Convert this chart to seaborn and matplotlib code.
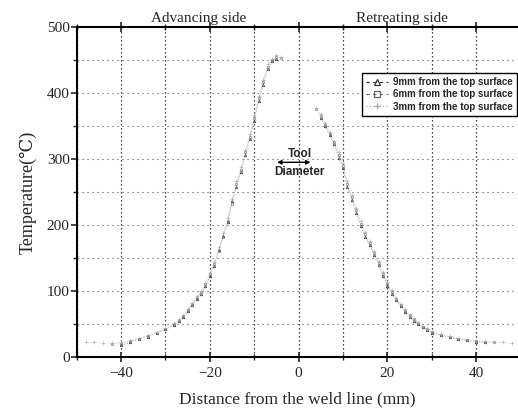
import numpy as np
import pandas as pd
import seaborn as sns
import matplotlib.pyplot as plt
from matplotlib.lines import Line2D
from matplotlib.ticker import MultipleLocator

# ---- data ----
x_adv = [-48, -46, -44, -42, -40, -38, -36, -34, -32, -30, -28, -27, -26, -25, -24, -23, -22, -21,
         -20, -19, -18, -17, -16, -15, -14, -13, -12, -11, -10, -9, -8, -7, -6, -5, -4]
t_adv_9 = [None, None, None, None, 18, 22, 27, 31, 36, 42, 48, 54, 60, 69, 79, 88, 96, 107,
           122, 138, 162, 184, 204, 236, 258, 280, 306, 330, 358, 388, 412, 436, 448, 452, None]
t_adv_6 = [None, None, None, 20, 20, 24, 28, 32, 37, 43, 50, 55, 62, 71, 80, 90, 98, 110,
           126, 141, 160, 182, 206, 232, 262, 284, 310, 334, 362, 392, 416, 440, 450, 455, 453]
t_adv_3 = [22, 22, 21, 21, 22, 25, 29, 33, 38, 44, 51, 57, 63, 72, 82, 92, 100, 112,
           128, 144, 166, 188, 210, 240, 266, 288, 314, 338, 366, 396, 420, 444, 452, 457, 455]

x_ret = [4, 5, 6, 7, 8, 9, 10, 11, 12, 13, 14, 15, 16, 17, 18, 19, 20, 21, 22, 23, 24, 25,
         26, 27, 28, 29, 30, 32, 34, 36, 38, 40, 42, 44, 46, 48]
t_ret_9 = [None, 362, 350, 336, 322, 302, 286, 258, 238, 218, 198, 182, 170, 155, 140, 123, 108, 96,
           86, 77, 68, 61, 55, 50, 45, 41, 37, 33, 30, 27, 25, 23, 22, None, None, None]
t_ret_6 = [375, 365, 352, 338, 325, 306, 290, 262, 242, 222, 202, 186, 172, 158, 143, 126, 111, 99,
           88, 79, 70, 63, 57, 51, 46, 42, 38, 34, 31, 28, 26, 24, 23, 22, None, None]
t_ret_3 = [378, 368, 355, 341, 328, 310, 294, 266, 246, 226, 206, 190, 176, 161, 146, 129, 114, 101,
           90, 81, 72, 64, 58, 52, 47, 43, 39, 35, 32, 29, 27, 25, 24, 23, 22, 21]

series_labels = ["9mm from the top surface", "6mm from the top surface", "3mm from the top surface"]
x_ticks = [-40, -20, 0, 20, 40]
y_ticks = [0, 100, 200, 300, 400, 500]

# ---- styling ----
sns.set_style("white")
serif = ["Liberation Serif", "DejaVu Serif"]
plt.rcParams["font.family"] = serif

fig = plt.figure(figsize=(5.18, 4.12), dpi=100)
ax = fig.add_axes([0.148, 0.1335, 0.851, 0.801])

styles = [
    dict(color="#333333", marker="^", ls=(0, (3, 3)), ms=1.8, mew=0.5, lc="#888888"),
    dict(color="#666666", marker="s", ls=(0, (3, 3)), ms=1.4, mew=0.4, lc="#aaaaaa"),
    dict(color="#aaaaaa", marker="+", ls=(0, (1, 2)), ms=2.2, mew=0.4, lc="#bbbbbb"),
]
adv = [t_adv_9, t_adv_6, t_adv_3]
ret = [t_ret_9, t_ret_6, t_ret_3]

for i, st in enumerate(styles):
    for xs, ts in ((x_adv, adv[i]), (x_ret, ret[i])):
        df = pd.DataFrame({"x": xs, "t": ts}).dropna()
        sns.lineplot(data=df, x="x", y="t", ax=ax, color=st["lc"], marker=st["marker"],
                     linestyle=st["ls"], linewidth=0.35, markersize=st["ms"],
                     markerfacecolor="none", markeredgecolor=st["color"],
                     markeredgewidth=st["mew"], sort=False, estimator=None, legend=False)

ax.set_xlim(-50, 49.3)
ax.set_ylim(0, 500)
ax.set_xticks(x_ticks)
ax.set_yticks(y_ticks)
ax.xaxis.set_minor_locator(MultipleLocator(10))
ax.yaxis.set_minor_locator(MultipleLocator(50))

ax.xaxis.grid(True, which="both", color="#111111", linestyle=(0, (1, 2.2)), linewidth=0.9)
ax.yaxis.grid(True, which="both", color="#555555", linestyle=(0, (1, 3.5)), linewidth=0.8)

for side in ["left", "top", "bottom"]:
    ax.spines[side].set_visible(True)
    ax.spines[side].set_color("black")
    ax.spines[side].set_linewidth(1.5)
ax.spines["right"].set_visible(False)

ax.tick_params(axis="x", which="major", direction="inout", length=7, width=1.2,
               bottom=True, top=True, labelsize=11, pad=4)
ax.tick_params(axis="x", which="minor", direction="inout", length=4, width=1, bottom=True, top=True)
ax.tick_params(axis="y", which="major", direction="out", length=4, width=1.2, left=True,
               labelsize=11, pad=1)
ax.tick_params(axis="y", which="minor", direction="out", length=3, width=1, left=True)
for lab in ax.get_xticklabels() + ax.get_yticklabels():
    lab.set_family(serif)

ax.set_xlabel("Distance from the weld line (mm)", fontsize=12.5, family=serif, labelpad=8)
ax.set_ylabel("Temperature(\u2103)", fontsize=13, family=serif, labelpad=7)

ax.text(-22.5, 503, "Advancing side", ha="center", va="bottom", fontsize=11, family=serif)
ax.text(23.2, 503, "Retreating side", ha="center", va="bottom", fontsize=11, family=serif)

sans = ["Liberation Sans", "DejaVu Sans"]
ax.annotate("", xy=(-5.5, 295), xytext=(3.3, 295),
            arrowprops=dict(arrowstyle="<|-|>", lw=1.0, color="black", mutation_scale=6))
ax.text(0.2, 299, "Tool", ha="center", va="bottom", fontsize=8.5, fontweight="bold", family=sans)
ax.text(0.2, 290, "Diameter", ha="center", va="top", fontsize=8.5, fontweight="bold", family=sans)

handles = [Line2D([0], [0], color=st["color"], marker=st["marker"], linestyle=st["ls"],
                  linewidth=0.8, markersize=4, markerfacecolor="none",
                  markeredgecolor=st["color"], markeredgewidth=0.9) for st in styles]
leg = ax.legend(handles, series_labels, loc="upper right", bbox_to_anchor=(1.01, 0.875),
                prop={"family": sans, "size": 7, "weight": "bold"}, frameon=True,
                fancybox=False, edgecolor="black", framealpha=1, handlelength=2.2,
                handletextpad=0.6, labelspacing=0.25, borderpad=0.4)
leg.get_frame().set_linewidth(1.0)

fig.savefig("out.png", dpi=100)
